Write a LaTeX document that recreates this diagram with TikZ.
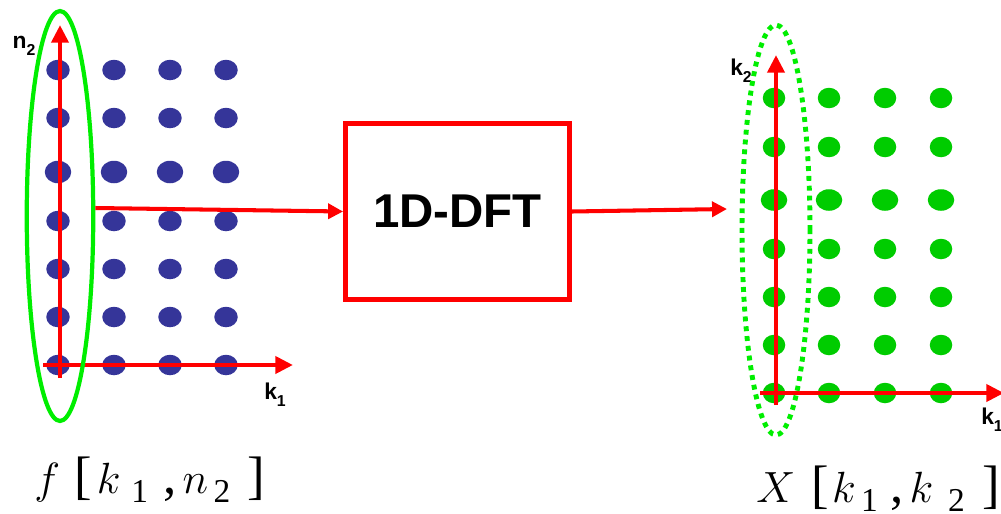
\documentclass[tikz,border=0pt]{standalone}
\usepackage{fontspec}
\setmainfont{Liberation Serif}
\setsansfont{Liberation Sans}
\usetikzlibrary{arrows.meta, shapes.geometric}

\definecolor{dotblue}{RGB}{53,53,153}
\definecolor{dotgreen}{RGB}{0,204,0}
\definecolor{ringgreen}{RGB}{0,238,0}
\definecolor{axred}{RGB}{255,0,0}

% axis label with a lowered index, e.g. \axlab{n}{2}
\newcommand{\axlab}[2]{#1\raisebox{-4pt}{\fontsize{9}{9}\selectfont #2}}
% lowered index of a sequence name
\newcommand{\seqidx}[1]{\raisebox{-5.5pt}{\fontsize{19}{19}\selectfont #1}}

\begin{document}
\begin{tikzpicture}[
    x=0.02cm, y=-0.02cm,
    axis/.style = {draw=axred, line width=2.8pt, -{Triangle[length=10pt, width=9.5pt]}},
    flow/.style = {draw=axred, line width=2.3pt, -{Triangle[length=8.5pt, width=8.5pt]}},
    bdot/.style = {ellipse, fill=dotblue, inner sep=0pt, minimum width=4.7mm, minimum height=4.1mm},
    gdot/.style = {ellipse, fill=dotgreen, inner sep=0pt, minimum width=4.5mm, minimum height=4.1mm},
    ring/.style = {ellipse, draw=ringgreen, line width=2.4pt, inner sep=0pt,
                   minimum width=1.33cm, minimum height=8.2cm},
    dft/.style  = {rectangle, draw=axred, line width=2.8pt, minimum width=4.48cm, minimum height=3.52cm,
                   font=\sffamily\bfseries\fontsize{27}{27}\selectfont},
    alab/.style = {font=\sffamily\bfseries\fontsize{13}{13}\selectfont, inner sep=0pt},
    slab/.style = {font=\fontsize{30}{30}\selectfont, anchor=base west, inner sep=0pt}
  ]
  \useasboundingbox (0,0) rectangle (1001,514);

  % --- input samples f[k1,n2] (left) ---
  \foreach \y [count=\j] in {70,118,172,221,269,317,365}
    \foreach \x [count=\i] in {58,114,170,226}
      \node[bdot] (l-\i-\j) at (\x,\y) {};
  \foreach \i in {1,2,3,4}
    \node[bdot, minimum width=5.3mm, minimum height=4.5mm] at (l-\i-3) {};

  \coordinate (lbot) at (60,378);
  \coordinate (ltop) at (60,25);
  \coordinate (lleft) at (43,365);
  \coordinate (lright) at (293,365);
  \draw[axis] (lbot) -- (ltop);
  \draw[axis] (lleft) -- (lright);
  \node[alab] (ln2) at (24,46) {\axlab{n}{2}};
  \node[alab] (lk1) at (275,395) {\axlab{k}{1}};

  \node[ring] (lcol) at (60,216) {};

  % --- transform block ---
  \node[dft] (dft) at (457.5,211.5) {1D-DFT};
  \coordinate (rin) at (727,209);

  \draw[flow] ([yshift=0.16cm]lcol.east) -- (dft.west);
  \draw[flow] (dft.east) -- (rin);

  % --- output samples X[k1,k2] (right) ---
  \foreach \y [count=\j] in {98,147,200,249,297,345,393}
    \foreach \x [count=\i] in {774,829,885,941}
      \node[gdot] (r-\i-\j) at (\x,\y) {};
  \foreach \i in {1,2,3,4}
    \node[gdot, minimum width=5.3mm, minimum height=4.3mm] at (r-\i-3) {};

  \coordinate (rbot) at (776,405);
  \coordinate (rtop) at (776,55);
  \coordinate (rleft) at (760,393);
  \coordinate (rright) at (1004,393);
  \draw[axis] (rbot) -- (rtop);
  \draw[axis] (rleft) -- (rright);
  \node[alab] (rk2) at (741,71) {\axlab{k}{2}};
  \node[alab] (rk1) at (992,420) {\axlab{k}{1}};

  \node[ring, line width=2.8pt, dash pattern=on 2.8pt off 2.8pt, minimum width=1.36cm] (rcol) at (776,230) {};

  % --- sequence names (bottom) ---
  \node[slab] (fname) at (34,493)
       {$f$\hspace{8pt}[\hspace{3pt}$k$\hspace{6pt}\seqidx{1}\hspace{9pt},\hspace{3.3pt}$n$\hspace{3pt}\seqidx{2}\hspace{10pt}]};
  \node[slab] (xname) at (756,502)
       {$X$\hspace{9pt}[\hspace{2pt}$k$\hspace{3pt}\seqidx{1}\hspace{7pt},\hspace{3.5pt}$k$\hspace{8.5pt}\seqidx{2}\hspace{10pt}]};

\end{tikzpicture}
\end{document}
